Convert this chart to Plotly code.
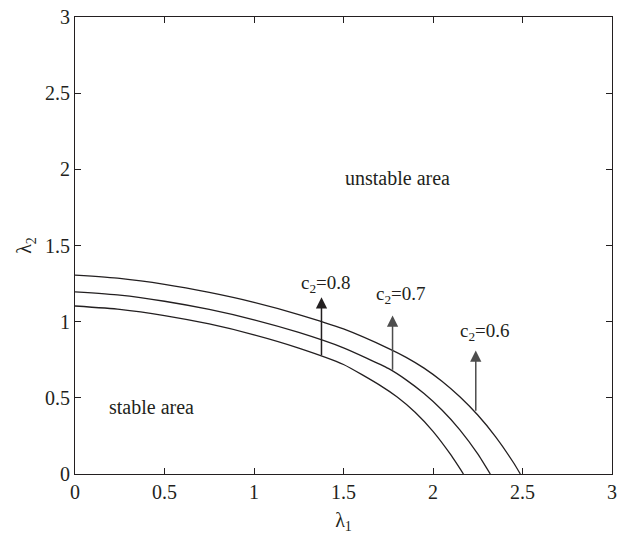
import plotly.graph_objects as go

# Stability boundary curves, lambda1 vs lambda2, for three values of c2
lam1_c06 = [0.0, 0.25, 0.5, 0.75, 1.0, 1.25, 1.5, 1.75, 1.85, 1.95, 2.05, 2.15, 2.25, 2.35, 2.45, 2.488]
lam2_c06 = [1.305, 1.284, 1.245, 1.192, 1.127, 1.047, 0.952, 0.825, 0.766, 0.695, 0.609, 0.507, 0.387, 0.244, 0.074, 0.0]

lam1_c07 = [0.0, 0.25, 0.5, 0.75, 1.0, 1.25, 1.5, 1.75, 1.85, 1.95, 2.05, 2.15, 2.25, 2.32]
lam2_c07 = [1.195, 1.174, 1.134, 1.080, 1.012, 0.929, 0.828, 0.693, 0.618, 0.528, 0.42, 0.29, 0.132, 0.0]

lam1_c08 = [0.0, 0.25, 0.5, 0.75, 1.0, 1.25, 1.5, 1.7, 1.8, 1.9, 2.0, 2.1, 2.17]
lam2_c08 = [1.103, 1.081, 1.040, 0.985, 0.914, 0.827, 0.719, 0.585, 0.505, 0.405, 0.28, 0.125, 0.0]

# Arrow positions (x, base, tip) and labels (x, y)
arrow_x = [1.377, 1.774, 2.239]
arrow_base = [0.77, 0.675, 0.405]
arrow_tip = [1.16, 1.04, 0.81]
arrow_colors = ["#231f20", "#4d4d4d", "#4d4d4d"]
label_text = ["c<sub>2</sub>=0.8", "c<sub>2</sub>=0.7", "c<sub>2</sub>=0.6"]
label_x = [1.40, 1.82, 2.29]
label_y = [1.245, 1.173, 0.932]

ticks = [0, 0.5, 1, 1.5, 2, 2.5, 3]
tick_text = ["0", "0.5", "1", "1.5", "2", "2.5", "3"]

ink = "#231f20"
font_family = "Liberation Serif"

fig = go.Figure()
for xs, ys in [(lam1_c06, lam2_c06), (lam1_c07, lam2_c07), (lam1_c08, lam2_c08)]:
    fig.add_trace(go.Scatter(
        x=xs, y=ys, mode="lines",
        line=dict(color=ink, width=1.3, shape="spline", smoothing=0.5),
        showlegend=False, hoverinfo="skip",
    ))

for xa, yb, yt, col in zip(arrow_x, arrow_base, arrow_tip, arrow_colors):
    fig.add_annotation(
        x=xa, y=yt, ax=xa, ay=yb, xref="x", yref="y", axref="x", ayref="y",
        showarrow=True, arrowhead=2, arrowsize=1.5, arrowwidth=1.5,
        arrowcolor=col, text="",
    )

for t, lx, ly in zip(label_text, label_x, label_y):
    fig.add_annotation(
        x=lx, y=ly, xref="x", yref="y", text=t, showarrow=False,
        font=dict(family=font_family, size=19, color=ink),
    )

fig.add_annotation(x=1.80, y=1.943, xref="x", yref="y", text="unstable area",
                   showarrow=False, font=dict(family=font_family, size=20, color=ink))
fig.add_annotation(x=0.427, y=0.438, xref="x", yref="y", text="stable area",
                   showarrow=False, font=dict(family=font_family, size=20, color=ink))

axis_common = dict(
    range=[0, 3], tickvals=ticks, ticktext=tick_text,
    showgrid=False, zeroline=False, showline=True, linecolor=ink, linewidth=1.2,
    mirror="ticks", ticks="inside", ticklen=6, tickwidth=1.2, tickcolor=ink,
    tickfont=dict(family=font_family, size=20, color=ink),
    ticklabeloverflow="allow",
)

fig.update_xaxes(**axis_common,
                 title=dict(text="λ<sub>1</sub>", standoff=10,
                            font=dict(family=font_family, size=20, color=ink)))
fig.update_yaxes(**axis_common,
                 title=dict(text="λ<sub>2</sub>", standoff=7,
                            font=dict(family=font_family, size=20, color=ink)))

fig.update_layout(
    width=621, height=537,
    margin=dict(l=75, r=4, t=17, b=63),
    paper_bgcolor="white", plot_bgcolor="white",
    font=dict(family=font_family, color=ink),
)

fig.write_html("out.html")
